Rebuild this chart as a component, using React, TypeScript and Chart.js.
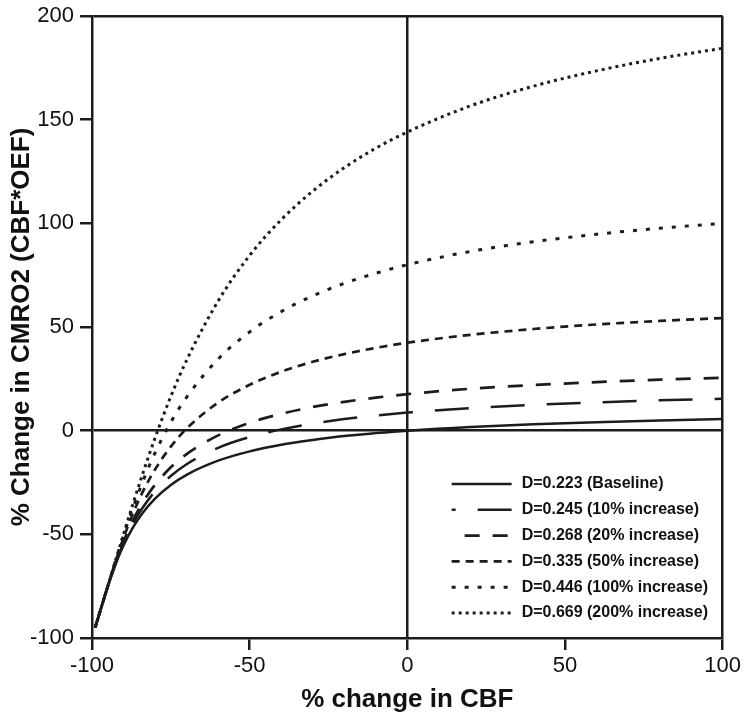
import React, { useEffect, useRef } from 'react';
import { Chart, registerables } from 'chart.js';

Chart.register(...registerables);

// % change in CBF (x values)
const cbfChange = [-99, -97, -95, -92, -90, -87, -84, -80, -75, -70, -60, -50, -40, -30, -20, -10, 0, 20, 40, 60, 80, 100];

// % change in CMRO2 for each D value
const d0223 = [-95.0, -85.0, -75.3, -62.4, -55.4, -46.7, -39.8, -32.8, -26.2, -21.3, -14.5, -10.0, -6.8, -4.5, -2.6, -1.2, 0, 1.8, 3.1, 4.1, 4.9, 5.6];
const d0245 = [-95.0, -85.0, -75.2, -61.9, -54.3, -44.8, -37.3, -29.3, -21.9, -16.2, -8.3, -3.1, 0.6, 3.4, 5.6, 7.3, 8.7, 10.9, 12.4, 13.6, 14.6, 15.4];
const d0268 = [-95.0, -85.0, -75.1, -61.4, -53.4, -43.2, -34.9, -26.1, -17.7, -11.3, -2.3, 3.8, 8.1, 11.4, 13.9, 15.9, 17.6, 20.2, 22.0, 23.4, 24.6, 25.5];
const d0335 = [-95.0, -85.0, -75.0, -60.6, -51.7, -39.9, -29.8, -18.7, -7.7, 1.0, 13.5, 22.1, 28.4, 33.2, 36.9, 39.9, 42.4, 46.2, 49.0, 51.2, 52.9, 54.3];
const d0446 = [-95.0, -85.0, -75.0, -60.1, -50.5, -37.1, -24.9, -10.7, 4.1, 16.1, 34.5, 47.6, 57.4, 65.0, 71.0, 75.9, 80.0, 86.4, 91.1, 94.7, 97.6, 100.0];
const d0669 = [-95.0, -85.0, -75.0, -60.0, -50.0, -35.3, -21.2, -3.5, 16.5, 33.9, 62.5, 84.5, 101.7, 115.5, 126.8, 136.2, 144.0, 156.6, 166.1, 173.5, 179.5, 184.4];

const seriesLabels = [
  'D=0.223 (Baseline)',
  'D=0.245 (10% increase)',
  'D=0.268 (20% increase)',
  'D=0.335 (50% increase)',
  'D=0.446 (100% increase)',
  'D=0.669 (200% increase)',
];
const seriesValues = [d0223, d0245, d0268, d0335, d0446, d0669];

const xTitle = '% change in CBF';
const yTitle = '% Change in CMRO2 (CBF*OEF)';

// styles
const INK = '#1c1c1c';
const dashes: number[][] = [[], [34, 22], [15, 13], [8, 6], [4, 9], [3, 4]];
const widths = [2.5, 2.5, 2.7, 2.7, 3, 3];
const legendDashOffsets = [0, 30, 15, 0, 0, 0];
const FONT = '"Liberation Sans", Arial, Helvetica, sans-serif';

const insideLegend = {
  id: 'insideLegend',
  afterDraw(chart: any) {
    const { ctx, chartArea } = chart;
    const x0 = chartArea.right - 271;
    const len = 60;
    const textX = chartArea.right - 201;
    const y0 = chartArea.bottom - 154;
    const step = 25.8;
    ctx.save();
    chart.data.datasets.forEach((ds: any, i: number) => {
      const y = y0 + i * step;
      ctx.beginPath();
      ctx.setLineDash(ds.borderDash || []);
      ctx.lineDashOffset = legendDashOffsets[i];
      ctx.lineWidth = ds.borderWidth;
      ctx.strokeStyle = ds.borderColor;
      ctx.lineCap = 'butt';
      ctx.moveTo(x0, y);
      ctx.lineTo(x0 + len, y);
      ctx.stroke();
      ctx.setLineDash([]);
      ctx.font = `bold 16px ${FONT}`;
      ctx.fillStyle = '#111';
      ctx.textBaseline = 'middle';
      ctx.textAlign = 'left';
      ctx.fillText(ds.label, textX, y);
    });
    ctx.restore();
  },
};

export default function App() {
  const canvasRef = useRef<HTMLCanvasElement | null>(null);

  useEffect(() => {
    if (!canvasRef.current) return;
    Chart.defaults.font.family = FONT;
    const datasets = seriesValues.map((vals, i) => ({
      label: seriesLabels[i],
      data: cbfChange.map((x, j) => ({ x, y: vals[j] })),
      borderColor: INK,
      borderWidth: widths[i],
      borderDash: dashes[i],
      pointRadius: 0,
      fill: false,
      cubicInterpolationMode: 'monotone' as const,
    }));

    const chart = new Chart(canvasRef.current, {
      type: 'line',
      data: { datasets },
      options: {
        animation: false,
        responsive: true,
        maintainAspectRatio: false,
        layout: { padding: { top: 10, right: 21, left: 0, bottom: 0 } },
        plugins: { legend: { display: false }, tooltip: { enabled: false } },
        scales: {
          x: {
            type: 'linear',
            min: -100,
            max: 100,
            ticks: { stepSize: 50, color: '#111', font: { size: 22 }, padding: 3, maxRotation: 0 },
            grid: {
              color: (c: any) => (c.tick && (c.tick.value === 0 || c.tick.value === 100) ? INK : 'rgba(0,0,0,0)'),
              lineWidth: 2.5,
              drawTicks: true,
              tickLength: 12,
              tickColor: INK,
              tickWidth: 2.5,
            },
            border: { display: true, color: INK, width: 2.5 },
            title: { display: true, text: xTitle, color: '#111', font: { size: 26, weight: 'bold' }, padding: { top: 0, bottom: 1 } },
            afterFit: (scale: any) => { scale.height = 78; },
          },
          y: {
            type: 'linear',
            min: -100,
            max: 200,
            ticks: { stepSize: 50, color: '#111', font: { size: 22, lineHeight: 0.9 }, padding: 6 },
            grid: {
              color: (c: any) => (c.tick && (c.tick.value === 0 || c.tick.value === 200) ? INK : 'rgba(0,0,0,0)'),
              lineWidth: 2.5,
              drawTicks: true,
              tickLength: 12,
              tickColor: INK,
              tickWidth: 2.5,
            },
            border: { display: true, color: INK, width: 2.5 },
            title: { display: true, text: yTitle, color: '#111', font: { size: 26, weight: 'bold' }, padding: { top: 6, bottom: 0 } },
            afterFit: (scale: any) => { scale.width = 92; },
          },
        },
      },
      plugins: [insideLegend],
    } as any);

    return () => chart.destroy();
  }, []);

  return (
    <div style={{ position: 'fixed', left: 0, top: 0, width: 744, height: 716, background: '#fff' }}>
      <canvas ref={canvasRef} />
    </div>
  );
}
